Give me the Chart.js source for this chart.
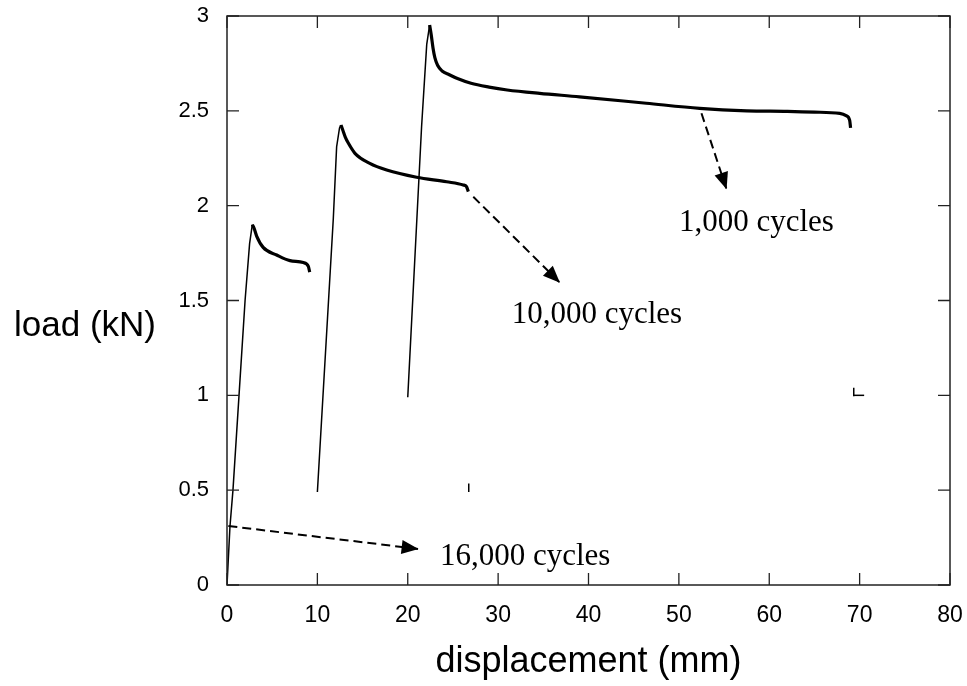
<!DOCTYPE html>
<html>
<head>
<meta charset="utf-8">
<script src="https://cdn.jsdelivr.net/npm/chart.js@4.4.1/dist/chart.umd.min.js"></script>
<style>
  html, body { margin: 0; padding: 0; background: #fff; }
</style>
</head>
<body>
<canvas id="chart" width="967" height="686"></canvas>
<script>
// axis ticks
const xTicks = [0, 10, 20, 30, 40, 50, 60, 70, 80];
const yTicks = [0, 0.5, 1, 1.5, 2, 2.5, 3];

// 16,000 cycles
const rise16kX = [0, 0.33, 0.66, 1.33, 2.0, 2.5, 2.8];
const rise16kY = [0, 0.31, 0.5, 1.0, 1.5, 1.8, 1.9];
const decay16kX = [2.8, 3.0, 3.28, 4.0, 5.5, 6.97, 8.44, 9.0, 9.15];
const decay16kY = [1.9, 1.88, 1.84, 1.78, 1.74, 1.71, 1.70, 1.68, 1.65];

// 10,000 cycles
const rise10kX = [10.0, 11.76, 12.13, 12.45, 12.61];
const rise10kY = [0.49, 1.93, 2.31, 2.41, 2.425];
const decay10kX = [12.61, 12.8, 13.1, 13.42, 14.16, 15.8, 17.67, 20.98, 24.3, 26.14, 26.5, 26.7];
const decay10kY = [2.425, 2.40, 2.36, 2.33, 2.276, 2.223, 2.188, 2.15, 2.126, 2.109, 2.10, 2.074];

// 1,000 cycles
const rise1kX = [20.0, 21.53, 22.1, 22.42];
const rise1kY = [0.99, 2.416, 2.85, 2.952];
const decay1kX = [22.42, 22.6, 22.8, 23.0, 23.3, 23.8, 24.6, 25.5, 27, 29, 31, 34.6, 39, 46.4, 52.3, 57.5, 62, 65, 67.8, 68.5, 68.9, 69.0];
const decay1kY = [2.952, 2.90, 2.83, 2.78, 2.74, 2.71, 2.69, 2.67, 2.645, 2.625, 2.61, 2.592, 2.574, 2.54, 2.513, 2.50, 2.497, 2.493, 2.487, 2.475, 2.45, 2.41];

// dashed arrows: start and tip
const arrow16kX = [0.15, 21.2];
const arrow16kY = [0.311, 0.19];
const arrow10kX = [27.25, 36.84];
const arrow10kY = [2.047, 1.594];
const arrow1kX = [52.5, 55.28];
const arrow1kY = [2.487, 2.086];

// labels
const labelText = ['16,000 cycles', '10,000 cycles', '1,000 cycles'];
const labelX = [23.56, 31.5, 50.0];
const labelY = [0.105, 1.38, 1.864];

// small stray marks in the scan
const markAX = [26.75, 26.75];
const markAY = [0.535, 0.49];
const markBX = [69.3, 70.5];
const markBY = [1.0, 1.0];
const markCX = [69.35, 69.35];
const markCY = [0.995, 1.04];

const pts = (xs, ys) => xs.map((v, i) => ({ x: v, y: ys[i] }));

const thin = (xs, ys) => ({ data: pts(xs, ys), borderColor: '#000', borderWidth: 1.5, pointRadius: 0, tension: 0 });
const thick = (xs, ys) => ({ data: pts(xs, ys), borderColor: '#000', borderWidth: 3.2, pointRadius: 0, cubicInterpolationMode: 'monotone' });
const dashed = (xs, ys) => ({ data: pts(xs, ys), borderColor: '#000', borderWidth: 2, borderDash: [9, 5], pointRadius: 0, arrow: true });

const frameTicks = {
  id: 'frameTicks',
  afterDatasetsDraw(chart) {
    const { ctx, chartArea: a, scales: { x, y } } = chart;
    ctx.save();
    ctx.strokeStyle = '#222';
    ctx.lineWidth = 1.5;
    ctx.strokeRect(a.left, a.top, a.right - a.left, a.bottom - a.top);
    ctx.lineWidth = 1.3;
    ctx.beginPath();
    x.ticks.forEach(t => {
      const px = x.getPixelForValue(t.value);
      ctx.moveTo(px, a.bottom); ctx.lineTo(px, a.bottom - 12);
      ctx.moveTo(px, a.top); ctx.lineTo(px, a.top + 12);
    });
    y.ticks.forEach(t => {
      const py = y.getPixelForValue(t.value);
      ctx.moveTo(a.left, py); ctx.lineTo(a.left + 12, py);
      ctx.moveTo(a.right, py); ctx.lineTo(a.right - 12, py);
    });
    ctx.stroke();

    // arrow heads
    ctx.fillStyle = '#000';
    chart.data.datasets.forEach((ds, i) => {
      if (!ds.arrow) return;
      const el = chart.getDatasetMeta(i).data;
      const p0 = el[el.length - 2], p1 = el[el.length - 1];
      const ang = Math.atan2(p1.y - p0.y, p1.x - p0.x);
      ctx.save();
      ctx.translate(p1.x, p1.y);
      ctx.rotate(ang);
      ctx.beginPath();
      ctx.moveTo(0, 0);
      ctx.lineTo(-17, -7);
      ctx.lineTo(-17, 7);
      ctx.closePath();
      ctx.fill();
      ctx.restore();
    });

    // labels
    ctx.font = '31px "Liberation Serif", "Times New Roman", serif';
    ctx.textAlign = 'left';
    ctx.textBaseline = 'alphabetic';
    labelText.forEach((t, i) => {
      ctx.fillText(t, x.getPixelForValue(labelX[i]), y.getPixelForValue(labelY[i]));
    });

    // axis titles
    ctx.font = '36px "Liberation Sans", Arial, sans-serif';
    ctx.textAlign = 'center';
    ctx.textBaseline = 'middle';
    ctx.fillText('displacement (mm)', (a.left + a.right) / 2, 662);
    ctx.font = '35px "Liberation Sans", Arial, sans-serif';
    ctx.textAlign = 'left';
    ctx.fillText('load (kN)', 14, 326);
    ctx.restore();
  }
};

new Chart(document.getElementById('chart'), {
  type: 'line',
  data: {
    datasets: [
      thin(rise16kX, rise16kY), thick(decay16kX, decay16kY),
      thin(rise10kX, rise10kY), thick(decay10kX, decay10kY),
      thin(rise1kX, rise1kY), thick(decay1kX, decay1kY),
      dashed(arrow16kX, arrow16kY), dashed(arrow10kX, arrow10kY), dashed(arrow1kX, arrow1kY),
      thin(markAX, markAY), thin(markBX, markBY), thin(markCX, markCY)
    ]
  },
  options: {
    responsive: false,
    animation: false,
    events: [],
    layout: { padding: { top: 16, right: 17, left: 0, bottom: 0 } },
    plugins: { legend: { display: false }, tooltip: { enabled: false } },
    scales: {
      x: {
        type: 'linear', min: 0, max: 80,
        afterBuildTicks: s => { s.ticks = xTicks.map(v => ({ value: v })); },
        afterFit: s => { s.height = 101; s.paddingLeft = 0; s.paddingRight = 0; },
        grid: { display: false, drawTicks: false },
        border: { display: false },
        ticks: { padding: 17, color: '#000', font: { family: '"Liberation Sans", Arial, sans-serif', size: 23 } }
      },
      y: {
        type: 'linear', min: 0, max: 3,
        afterBuildTicks: s => { s.ticks = yTicks.map(v => ({ value: v })); },
        afterFit: s => { s.width = 227; s.paddingTop = 0; s.paddingBottom = 0; },
        grid: { display: false, drawTicks: false },
        border: { display: false },
        ticks: { padding: 18, color: '#000', callback: v => String(v), font: { family: '"Liberation Sans", Arial, sans-serif', size: 22 } }
      }
    }
  },
  plugins: [frameTicks]
});
</script>
</body>
</html>
